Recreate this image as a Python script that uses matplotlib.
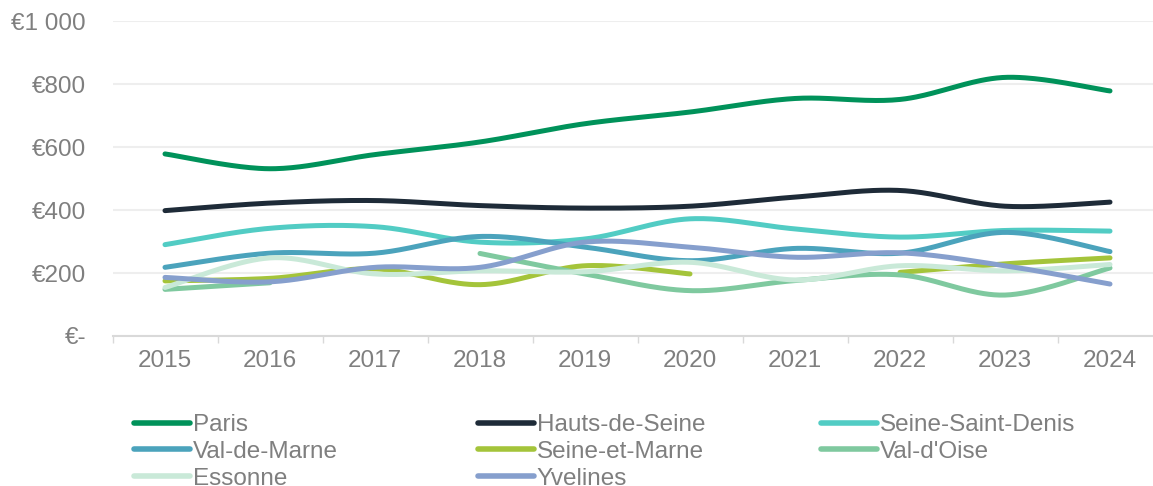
import numpy as np
import matplotlib.pyplot as plt
from matplotlib.lines import Line2D

years = [2015, 2016, 2017, 2018, 2019, 2020, 2021, 2022, 2023, 2024]

nan = np.nan
paris = [578, 531, 576, 616, 674, 711, 754, 751, 821, 778]
hauts_de_seine = [398, 422, 430, 414, 406, 412, 441, 462, 412, 425]
seine_saint_denis = [290, 342, 347, 298, 308, 372, 340, 314, 335, 333]
val_de_marne = [218, 263, 263, 316, 282, 239, 278, 263, 329, 268]
seine_et_marne = [175, 183, 213, 163, 223, 197, nan, 202, 229, 248]
val_d_oise = [148, 169, nan, 262, 197, 144, 176, 194, 130, 216]
essonne = [154, 248, 197, 207, 204, 234, 178, 223, 207, 227]
yvelines = [186, 172, 218, 218, 298, 282, 250, 264, 223, 165]

series = [
    ("Paris", paris, "#00925A"),
    ("Hauts-de-Seine", hauts_de_seine, "#1E2B38"),
    ("Seine-Saint-Denis", seine_saint_denis, "#52CCC4"),
    ("Val-de-Marne", val_de_marne, "#4BA3BC"),
    ("Seine-et-Marne", seine_et_marne, "#A4C43A"),
    ("Val-d'Oise", val_d_oise, "#7FC99F"),
    ("Essonne", essonne, "#C9E9D8"),
    ("Yvelines", yvelines, "#869FCD"),
]

GREY = "#7F7F7F"
FS = 17.5
plt.rcParams["font.family"] = ["Liberation Sans", "DejaVu Sans"]


def smooth(xs, ys, n=40):
    """Catmull-Rom style bezier through the points (like a spreadsheet smoothed line)."""
    xs = np.asarray(xs, float)
    ys = np.asarray(ys, float)
    if len(xs) < 2:
        return xs, ys
    px = np.concatenate([[xs[0]], xs, [xs[-1]]])
    py = np.concatenate([[ys[0]], ys, [ys[-1]]])
    t = np.linspace(0, 1, n)[:, None]
    out_x, out_y = [], []
    for i in range(1, len(px) - 2):
        p0 = np.array([px[i], py[i]])
        p3 = np.array([px[i + 1], py[i + 1]])
        c1 = p0 + (p3 - np.array([px[i - 1], py[i - 1]])) / 6
        c2 = p3 - (np.array([px[i + 2], py[i + 2]]) - p0) / 6
        pts = ((1 - t) ** 3) * p0 + 3 * ((1 - t) ** 2) * t * c1 + 3 * (1 - t) * t ** 2 * c2 + t ** 3 * p3
        out_x.append(pts[:, 0])
        out_y.append(pts[:, 1])
    return np.concatenate(out_x), np.concatenate(out_y)


fig = plt.figure(figsize=(11.53, 4.86), dpi=100)
ax = fig.add_axes([112.5 / 1153, 1 - 336 / 486, 1050 / 1153, 315 / 486])

x = np.arange(len(years))
for name, vals, color in series:
    vals = np.asarray(vals, float)
    ok = ~np.isnan(vals)
    # split into contiguous runs so gaps stay open
    runs, cur = [], []
    for i in range(len(vals)):
        if ok[i]:
            cur.append(i)
        elif cur:
            runs.append(cur)
            cur = []
    if cur:
        runs.append(cur)
    for r in runs:
        sx, sy = smooth(x[r], vals[r])
        ax.plot(sx, sy, color=color, lw=3.6, solid_capstyle="round", solid_joinstyle="round")

ax.set_xlim(-0.5, len(years) - 0.5)
ax.set_ylim(0, 1000)
ax.set_yticks([0, 200, 400, 600, 800, 1000])
ax.set_yticklabels(["€-", "€200", "€400", "€600", "€800", "€1 000"])
ax.set_xticks(x)
ax.set_xticklabels([str(y) for y in years])
ax.set_xticks(np.arange(-0.5, len(years)), minor=True)

ax.tick_params(axis="y", length=0, pad=19, labelsize=FS, labelcolor=GREY)
ax.tick_params(axis="x", which="major", length=0, pad=10, labelsize=FS, labelcolor=GREY)
ax.tick_params(axis="x", which="minor", length=5, width=1, color="#D9D9D9")

ax.grid(axis="y", color="#EEEEEE", lw=1.5)
ax.set_axisbelow(True)
for s in ["top", "right", "left"]:
    ax.spines[s].set_visible(False)
ax.spines["bottom"].set_color("#D9D9D9")
ax.spines["bottom"].set_linewidth(1.5)

# legend laid out in three fixed columns
columns = [[0, 3, 6], [1, 4, 7], [2, 5]]
col_x = [134, 478, 821]
for cx, idx in zip(col_x, columns):
    handles = [Line2D([], [], color=series[i][2], lw=4, solid_capstyle="round") for i in idx]
    labels = [series[i][0] for i in idx]
    leg = fig.legend(handles, labels, loc="upper left", bbox_to_anchor=(cx / 1153, 1 - 414 / 486),
                     frameon=False, fontsize=FS, handlelength=2.3, handletextpad=0.12,
                     labelspacing=0.2, borderaxespad=0, borderpad=0)
    for t in leg.get_texts():
        t.set_color(GREY)

fig.savefig("out.png", dpi=100)
